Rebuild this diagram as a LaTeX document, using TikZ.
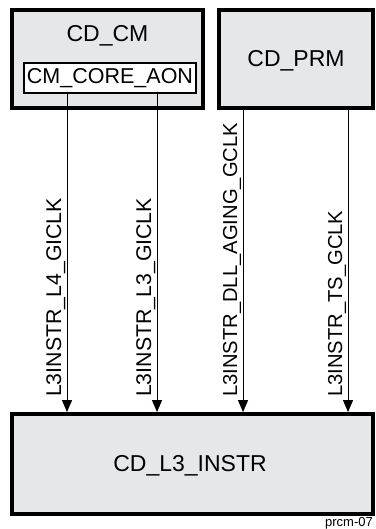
\documentclass[tikz,border=0pt]{standalone}
\usepackage{fontspec}
\setmainfont{Liberation Sans}
\usepackage{xcolor}
\usetikzlibrary{arrows.meta, positioning, calc}

\definecolor{domaingray}{RGB}{230,231,232}

\begin{document}
\begin{tikzpicture}[
    x=1pt,
    y=-1pt,
    >={Triangle[length=12pt, width=10pt]},
    cdbox/.style={
        rectangle,
        draw=black,
        line width=3.8pt,
        fill=domaingray,
        inner sep=0pt
    },
    corebox/.style={
        rectangle,
        draw=black,
        line width=2pt,
        fill=white,
        minimum width=172pt,
        minimum height=30pt,
        inner sep=0pt,
        font=\fontsize{21.5}{24}\selectfont
    },
    title/.style={
        anchor=base,
        inner sep=0pt,
        font=\fontsize{23}{26}\selectfont
    },
    clk/.style={
        rotate=90,
        anchor=base west,
        inner sep=0pt,
        font=\fontsize{21.3}{24}\selectfont
    },
    clksmall/.style={
        clk,
        font=\fontsize{20.2}{23}\selectfont
    },
    sig/.style={
        ->,
        line width=1pt
    },
    tag/.style={
        anchor=base east,
        inner sep=0pt,
        font=\fontsize{13}{15}\selectfont
    }
]
\useasboundingbox (0,0) rectangle (375,529);

% Clock domains
\node[cdbox, minimum width=191pt, minimum height=98pt] (cm) at (107.5,59) {};
\node[title] (cmtitle) at (107.5,42) {CD\_CM};
\node[corebox] (core) at (110,78) {CM\_CORE\_AON};

\node[cdbox, minimum width=154pt, minimum height=98pt] (prm) at (296,59) {};
\node[title] (prmtitle) at (296,67) {CD\_PRM};

\node[cdbox, minimum width=361pt, minimum height=100pt] (instr) at (192.5,464) {};
\node[title] (instrtitle) at (190,471) {CD\_L3\_INSTR};

% Clock lanes
\coordinate (x1) at (67,0);
\coordinate (x2) at (157,0);
\coordinate (x3) at (243,0);
\coordinate (x4) at (348,0);

% Clocks from CD_CM
\draw[sig] (core.south -| x1) -- (instr.north -| x1);
\draw[sig] (core.south -| x2) -- (instr.north -| x2);

% Clocks from CD_PRM
\draw[sig] (prm.south -| x3) -- (instr.north -| x3);
\draw[sig] (prm.south -| x4) -- (instr.north -| x4);

% Clock names
\node[clk] (clk1) at ($(instr.north -| x1)+(-6,-15)$) {L3INSTR\_L4\_GICLK};
\node[clk] (clk2) at ($(instr.north -| x2)+(-6,-15)$) {L3INSTR\_L3\_GICLK};
\node[clksmall] (clk3) at ($(instr.north -| x3)+(-6,-15)$) {L3INSTR\_DLL\_AGING\_GCLK};
\node[clksmall] (clk4) at ($(instr.north -| x4)+(-6,-15)$) {L3INSTR\_TS\_GCLK};

\node[tag] (fig) at (373,526) {prcm-07};

\end{tikzpicture}
\end{document}
